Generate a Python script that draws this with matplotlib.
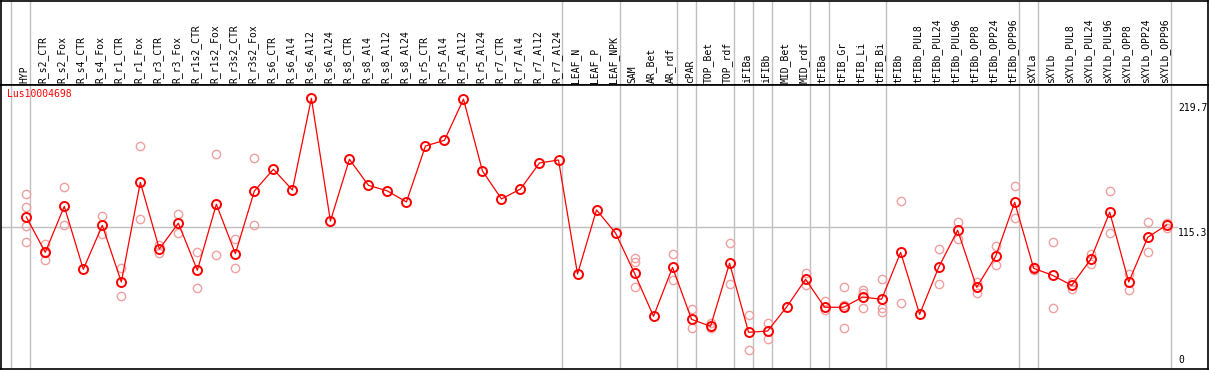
import numpy as np
import matplotlib.pyplot as plt

# conditions along the x axis
conditions = [
    "HYP", "R_s2_CTR", "R_s2_Fox", "R_s4_CTR", "R_s4_Fox", "R_r1_CTR", "R_r1_Fox",
    "R_r3_CTR", "R_r3_Fox", "R_r1s2_CTR", "R_r1s2_Fox", "R_r3s2_CTR", "R_r3s2_Fox",
    "R_s6_CTR", "R_s6_Al4", "R_s6_Al12", "R_s6_Al24", "R_s8_CTR", "R_s8_Al4",
    "R_s8_Al12", "R_s8_Al24", "R_r5_CTR", "R_r5_Al4", "R_r5_Al12", "R_r5_Al24",
    "R_r7_CTR", "R_r7_Al4", "R_r7_Al12", "R_r7_Al24", "LEAF_N", "LEAF_P", "LEAF_NPK",
    "SAM", "AR_Bet", "AR_rdf", "cPAR", "TOP_Bet", "TOP_rdf", "iFIBa", "iFIBb",
    "MID_Bet", "MID_rdf", "tFIBa", "tFIB_Gr", "tFIB_Li", "tFIB_Bi", "tFIBb",
    "tFIBb_PUL8", "tFIBb_PUL24", "tFIBb_PUL96", "tFIBb_OPP8", "tFIBb_OPP24", "tFIBb_OPP96",
    "sXYLa", "sXYLb", "sXYLb_PUL8", "sXYLb_PUL24", "sXYLb_PUL96", "sXYLb_OPP8",
    "sXYLb_OPP24", "sXYLb_OPP96",
]

# mean expression per condition
means = [
    123.4, 94.7, 132.0, 80.9, 116.6, 70.6, 151.5, 97.4, 118.3, 80.1, 133.7, 93.6, 144.5,
    162.1, 145.3, 219.7, 120.1, 170.2, 149.1, 144.5, 135.6, 181.0, 185.6, 219.0, 160.7,
    138.0, 146.1, 167.2, 169.6, 77.1, 129.1, 110.4,
    77.7, 42.8, 82.5, 40.3, 34.7, 85.8, 29.8, 30.8, 50.3, 72.8,
    50.1, 50.1, 58.4, 56.6, 94.7,
    44.4, 82.5, 112.6, 66.3, 91.5, 135.3,
    81.7, 76.0, 67.9, 89.0, 127.2, 70.6, 106.9, 116.9,
]

# individual replicate values (empty = only the mean is shown)
replicates = [
    [141.8, 131.2, 115.8, 102.8], [101.5, 94.5, 88.2], [147.5, 116.6], [], [124.2, 109.6],
    [82.0, 59.0], [180.8, 121.5], [100.9, 94.2], [125.6, 110.6], [94.7, 65.5],
    [174.3, 92.5], [105.3, 81.7], [171.0, 116.6],
    [], [], [], [], [], [], [], [], [], [], [], [], [], [], [], [], [], [], [],
    [90.3, 87.1, 66.6], [], [93.3, 72.0], [48.5, 33.0], [37.6, 33.0], [102.0, 69.0],
    [43.6, 15.4], [37.3, 24.4], [], [77.9, 67.9],
    [55.2, 47.9], [66.3, 51.9, 33.0], [64.1, 61.4, 49.3], [72.8, 49.3, 46.5], [136.4, 53.3],
    [], [97.2, 68.7], [119.1, 105.8], [70.6, 61.9], [99.8, 84.2], [148.3, 122.3],
    [83.0, 80.5], [103.3, 49.3], [70.6, 64.7], [93.6, 85.5], [144.2, 110.4],
    [77.4, 64.1], [119.1, 94.7], [118.8, 114.6],
]

# last condition index of each group (separator drawn right after it)
group_ends = [-1, 0, 28, 31, 34, 35, 37, 38, 39, 41, 42, 45, 52, 53, 60]

gene = "Lus10004698"
y_max = 219.7
y_ref = 115.3

RED = "#ff0000"
PINK = "#f0a0a0"
GRAY = "#c0c0c0"
FONT = "DejaVu Sans Mono"

W, H = 1209, 370
fig = plt.figure(figsize=(W / 100, H / 100), dpi=100)


def rect(l, t, r, b):
    return [l / W, 1 - b / H, (r - l) / W, (b - t) / H]


ax_lab = fig.add_axes(rect(1, 0.5, 1208, 85))
ax = fig.add_axes(rect(1, 85, 1208, 369))

xlim = (-1.33, 62.17)
for a in (ax, ax_lab):
    a.set_xlim(*xlim)
    a.set_xticks([])
    a.set_yticks([])
    for s in a.spines.values():
        s.set_color("black")
        s.set_linewidth(1.2)
ax.set_ylim(0, 230.5)
ax_lab.set_ylim(0, 1)

x = np.arange(len(conditions))

# group separators
for g in group_ends:
    ax.axvline(g + 0.21, color=GRAY, lw=1.0, zorder=1)
    ax_lab.axvline(g + 0.21, color=GRAY, lw=1.0, zorder=1)

ax.axhline(y_ref, xmax=0.974, color=GRAY, lw=1.0, zorder=1)

# condition labels
for i, name in enumerate(conditions):
    ax_lab.text(i - 0.1, 0.025, name, rotation=90, ha="center", va="bottom",
                fontsize=7, family=FONT, color="black")

# replicates
for i, reps in enumerate(replicates):
    if reps:
        ax.plot([i] * len(reps), reps, "o", ms=6, mfc="none", mec=PINK, mew=1.0, zorder=2)

# means
ax.plot(x, means, "-", color=RED, lw=0.9, zorder=3)
ax.plot(x, means, "o", ms=6.5, mfc="none", mec=RED, mew=1.4, zorder=4)

ax.text(-1.0, 223, gene, color=RED, fontsize=7, family=FONT, ha="left", va="center")

# value labels on the right
ax.annotate(f"{y_max:.1f}", xy=(60.6, y_max), xytext=(0, -3.5), textcoords="offset points",
            ha="left", va="top", fontsize=7, family=FONT)
ax.annotate(f"{y_ref:.1f}", xy=(60.6, y_ref), xytext=(0, -0.5), textcoords="offset points",
            ha="left", va="top", fontsize=7, family=FONT)
ax.annotate("0", xy=(60.6, 0), xytext=(0, 3), textcoords="offset points",
            ha="left", va="bottom", fontsize=7, family=FONT)

fig.savefig("out.png", dpi=100)
